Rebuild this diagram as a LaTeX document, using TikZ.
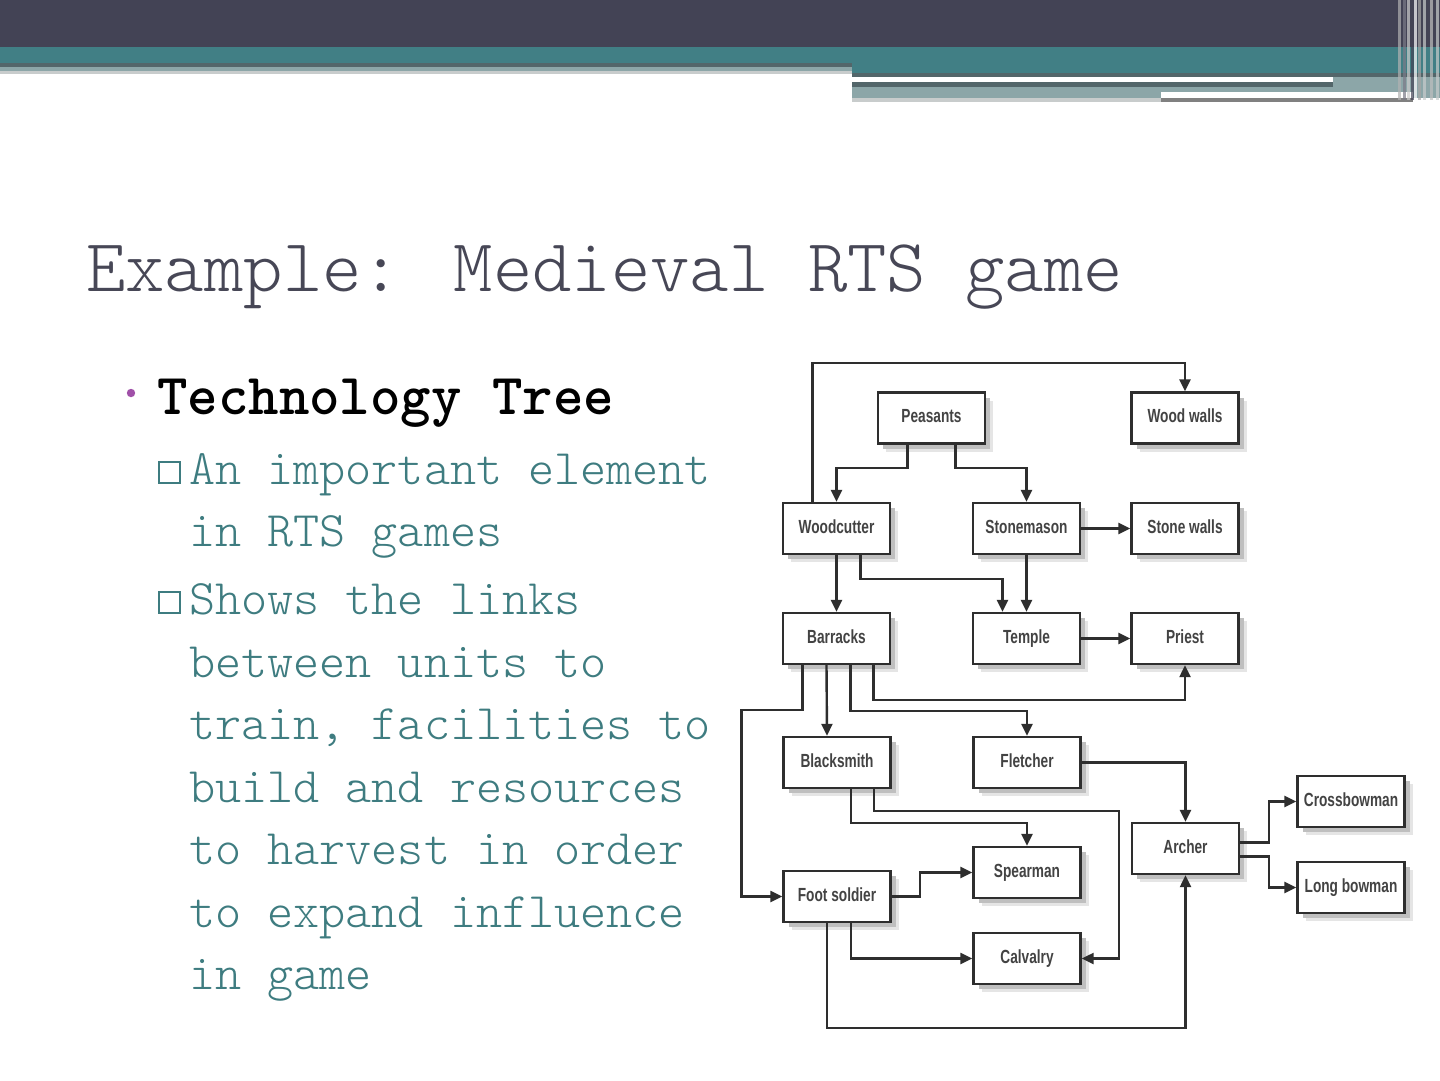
\documentclass[tikz,border=0pt]{standalone}
\usepackage{fontspec}
\usepackage{xcolor}
\usetikzlibrary{shapes,arrows.meta,positioning,calc,shadows}

\newfontfamily\boxfont[FakeStretch=0.72]{Liberation Sans}
\newfontfamily\slidefont{Latin Modern Mono Light}

\definecolor{barDark}{HTML}{434355}
\definecolor{barTeal}{HTML}{417F85}
\definecolor{barLine}{HTML}{53666A}
\definecolor{barPale}{HTML}{8CA6A8}
\definecolor{barGrey}{HTML}{C8CCCC}
\definecolor{titleGrey}{HTML}{474756}
\definecolor{bodyTeal}{HTML}{3E7C80}
\definecolor{dotPurple}{HTML}{A050A8}
\definecolor{inkGrey}{HTML}{2E2E2E}

\tikzset{
  unit/.style={rectangle, draw=inkGrey, line width=2.4pt, fill=white,
    minimum width=107pt, minimum height=51pt, inner sep=0pt,
    font=\boxfont\bfseries\fontsize{19}{22}\selectfont, text=inkGrey!90,
    text height=0.95em, text depth=0.02em,
    general shadow={shadow xshift=8pt, shadow yshift=-8pt, fill=black!10},
    general shadow={shadow xshift=5pt, shadow yshift=-5pt, fill=black!25}},
  link/.style={draw=inkGrey, line width=2.4pt,
    -{Triangle[length=12pt, width=11pt]}},
  bodyline/.style={anchor=base west, inner sep=0pt, text=bodyTeal,
    font=\slidefont\fontsize{49.7}{60}\selectfont},
  sqbox/.style={rectangle, draw=bodyTeal, line width=1.8pt,
    minimum size=21pt, inner sep=0pt}
}

\begin{document}
\begin{tikzpicture}[x=1pt, y=-1pt]
    \useasboundingbox (0,0) rectangle (1440,1080);
    \fill[white] (0,0) rectangle (1440,1080);

    % Header bars
    \fill[barDark] (0,0) rectangle (1440,47);
    \fill[barTeal] (0,47) rectangle (852,63);
    \fill[barLine] (0,63) rectangle (852,67);
    \fill[barPale] (0,67) rectangle (852,71);
    \fill[barGrey] (0,71) rectangle (852,74);
    \fill[barTeal] (852,47) rectangle (1440,73);
    \fill[barPale] (852,73) rectangle (1440,98);
    \fill[barLine] (852,73) rectangle (1440,77);
    \fill[white] (852,77) rectangle (1333,82);
    \fill[barLine] (852,82) rectangle (1333,87);
    \fill[barGrey] (852,98) rectangle (1161,102);
    \fill[white] (1161,92) rectangle (1413,98);
    \fill[gray] (1161,98) rectangle (1413,102);
    \foreach \xx/\cc in {1398/gray!60, 1403/barDark!70, 1407/gray!40, 1411/barDark, 1414/white, 1418/gray!70, 1423/barGrey, 1430/gray!50, 1436/barGrey}
        \fill[\cc, opacity=0.7] (\xx,0) rectangle ++(3,100);

    % Title
    \node[anchor=base west, inner sep=0pt, text=titleGrey,
          font=\slidefont\fontsize{75}{90}\selectfont] (title) at (86,291) {Example: Medieval RTS game};

    % Bullets
    \fill[dotPurple] (131,393) circle (4.2);
    \node[anchor=base west, inner sep=0pt,
          font=\ttfamily\bfseries\fontsize{58}{70}\selectfont] (tree) at (157,414) {Technology Tree};
    \node[sqbox] (sq1) at (169.5,472.5) {};
    \node[sqbox] (sq2) at (169.5,602.5) {};
    \node[bodyline] (l1) at (189,484) {An important element};
    \node[bodyline] (l2) at (189,546) {in RTS games};
    \node[bodyline] (l3) at (189,614) {Shows the links};
    \node[bodyline] (l4) at (189,677) {between units to};
    \node[bodyline] (l5) at (189,739) {train, facilities to};
    \node[bodyline] (l6) at (189,802) {build and resources};
    \node[bodyline] (l7) at (189,864) {to harvest in order};
    \node[bodyline] (l8) at (189,927) {to expand influence};
    \node[bodyline] (l9) at (189,989) {in game};

    % Tree units
    \node[unit] (peasants) at (931.5,418) {Peasants};
    \node[unit] (woodwalls) at (1185,418) {Wood walls};
    \node[unit] (woodcutter) at (836.5,528.5) {Woodcutter};
    \node[unit] (stonemason) at (1026.5,528.5) {Stonemason};
    \node[unit] (stonewalls) at (1185,528.5) {Stone walls};
    \node[unit] (barracks) at (836.5,638.5) {Barracks};
    \node[unit] (temple) at (1026.5,638.5) {Temple};
    \node[unit] (priest) at (1185,638.5) {Priest};
    \node[unit] (blacksmith) at (837,762.5) {Blacksmith};
    \node[unit] (fletcher) at (1027,762.5) {Fletcher};
    \node[unit] (archer) at (1185.5,848.5) {Archer};
    \node[unit] (crossbow) at (1351,801.5) {Crossbowman};
    \node[unit] (longbow) at (1351,887.5) {Long bowman};
    \node[unit] (spearman) at (1027,872.5) {Spearman};
    \node[unit] (footsoldier) at (837,896.5) {Foot soldier};
    \node[unit] (calvalry) at (1027,958.5) {Calvalry};

    % Links
    \draw[link] ([xshift=-24pt]woodcutter.north) -- ++(0,-139) -| (woodwalls.north);
    \draw[link] ([xshift=-24pt]peasants.south) -- ++(0,23) -| (woodcutter.north);
    \draw[link] ([xshift=24pt]peasants.south) -- ++(0,23) -| (stonemason.north);
    \draw[link] (stonemason.east) -- (stonewalls.west);
    \draw[link] (woodcutter.south) -- (barracks.north);
    \draw[link] ([xshift=24pt]woodcutter.south) -- ++(0,24) -| ([xshift=-24pt]temple.north);
    \draw[link] (stonemason.south) -- (temple.north);
    \draw[link] (temple.east) -- (priest.west);
    \draw[link] ([xshift=-34pt]barracks.south) -- ++(0,45) -- ++(-61,0) |- (footsoldier.west);
    \draw[link] ([xshift=-10pt]barracks.south) -- ([xshift=-10pt]blacksmith.north);
    \draw[link] ([xshift=14pt]barracks.south) -- ++(0,46) -| (fletcher.north);
    \draw[link] ([xshift=37pt]barracks.south) -- ++(0,35) -| (priest.south);
    \draw[link] (fletcher.east) -| (archer.north);
    \draw[link] ([xshift=14pt]blacksmith.south) -- ++(0,34) -| (spearman.north);
    \draw[link] ([xshift=37pt]blacksmith.south) -- ++(0,22) -| ([xshift=37pt]calvalry.east) -- (calvalry.east);
    \draw[link] (footsoldier.east) -- ++(28,0) |- (spearman.west);
    \draw[link] ([xshift=14pt]footsoldier.south) |- (calvalry.west);
    \draw[link] ([xshift=-10pt]footsoldier.south) -- ++(0,105) -| (archer.south);
    \draw[link] ([yshift=6pt]archer.east) -- ++(29,0) |- (crossbow.west);
    \draw[link] ([yshift=-8pt]archer.east) -- ++(29,0) |- (longbow.west);
\end{tikzpicture}
\end{document}
